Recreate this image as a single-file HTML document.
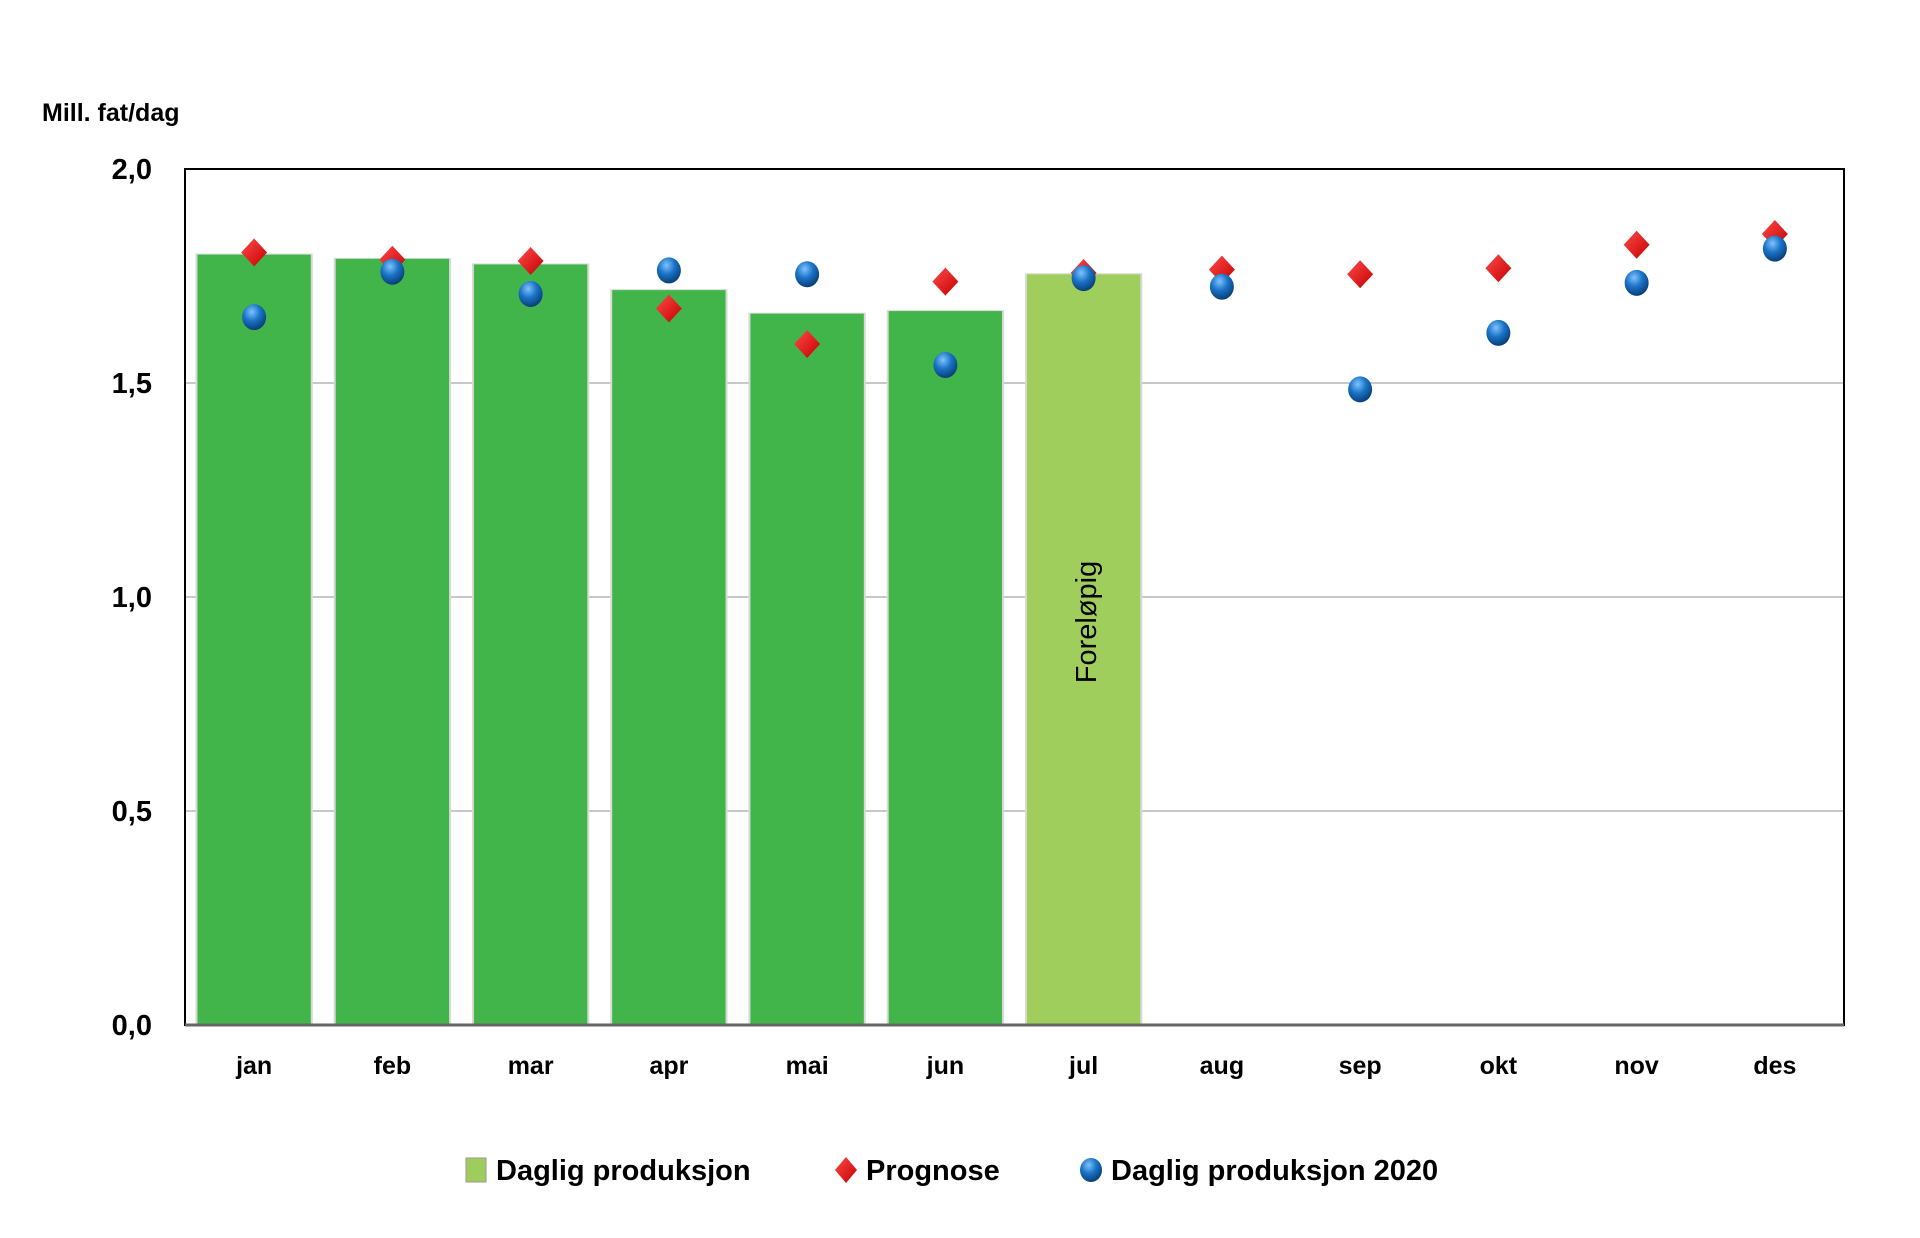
<!DOCTYPE html>
<html><head><meta charset="utf-8"><style>
html,body{margin:0;padding:0;background:#fff;}
svg{display:block;font-family:"Liberation Sans",sans-serif;}
</style></head><body>
<svg id="chart" width="1920" height="1238" viewBox="0 0 1920 1238" xmlns="http://www.w3.org/2000/svg">
<defs>
<radialGradient id="ball" cx="40%" cy="30%" r="70%">
<stop offset="0" stop-color="#7fc3ff"/><stop offset="0.5" stop-color="#1a73c6"/><stop offset="1" stop-color="#0a3f78"/>
</radialGradient>
<linearGradient id="dia" x1="0" y1="0" x2="1" y2="1">
<stop offset="0" stop-color="#ff4a4a"/><stop offset="1" stop-color="#c40000"/>
</linearGradient>
</defs>
<text x="42" y="121" font-size="25" font-weight="bold" fill="#000">Mill. fat/dag</text>
<g id="grid"></g>
<g id="bars"></g>
<rect x="185" y="169" width="1659" height="856" fill="none" stroke="#000" stroke-width="2"/>
<line x1="185" y1="1025" x2="1844" y2="1025" stroke="#666" stroke-width="3"/>
<g id="ylabels"></g>
<g id="xlabels"></g>
<g id="marks"></g>
<text transform="translate(1096,622) rotate(-90)" text-anchor="middle" font-size="29" fill="#000">Foreløpig</text>
<g>
<rect x="466" y="1158" width="20" height="24" fill="#9fcd5b" stroke="#999" stroke-width="1"/>
<text x="496" y="1180" font-size="29" font-weight="bold">Daglig produksjon</text>
<polygon points="846,1157 857,1170 846,1183 835,1170" fill="url(#dia)"/>
<text x="866" y="1180" font-size="29" font-weight="bold">Prognose</text>
<ellipse cx="1091" cy="1170" rx="11" ry="12" fill="url(#ball)"/>
<text x="1111" y="1180" font-size="29" font-weight="bold">Daglig produksjon 2020</text>
</g>
</svg>
<script>
const categories=["jan","feb","mar","apr","mai","jun","jul","aug","sep","okt","nov","des"];
const production=[1.80,1.79,1.777,1.717,1.662,1.668,1.754];
const forecast=[1.805,1.788,1.785,1.674,1.591,1.737,1.757,1.765,1.754,1.768,1.823,1.848];
const production2020=[1.654,1.76,1.708,1.763,1.754,1.542,1.745,1.725,1.485,1.617,1.734,1.814];
const yTicks=[0,0.5,1.0,1.5,2.0];
const yTickLabels=["0,0","0,5","1,0","1,5","2,0"];
const NS="http://www.w3.org/2000/svg";
const L=185,R=1844,T=169,B=1025,yMax=2;
const bw=(R-L)/categories.length;
function x(i){return L+bw*(i+0.5);}
function y(v){return B-(v/yMax)*(B-T);}
function mk(tag,attrs,parent){const e=document.createElementNS(NS,tag);for(const k in attrs)e.setAttribute(k,attrs[k]);document.getElementById(parent).appendChild(e);return e;}
yTicks.forEach((t,i)=>{
 if(t>0&&t<yMax){const g=mk('line',{x1:L,x2:R,y1:y(t),y2:y(t),stroke:'#c8c8c8','stroke-width':2},'grid');
 
 }
 const tl=mk('text',{x:152,y:y(t)+10,'text-anchor':'end','font-size':29,'font-weight':'bold'},'ylabels');
 tl.textContent=yTickLabels[i];
 
 
});
categories.forEach((c,i)=>{
 const t=mk('text',{x:x(i),y:1074,'text-anchor':'middle','font-size':25,'font-weight':'bold'},'xlabels');
 t.textContent=c;
 
 
});
const w=bw*0.82;
production.forEach((v,i)=>{
 const col=i===6?'#a0ce5c':'#42b54a';
 const s=mk('rect',{x:x(i)-w/2-2,y:y(v)-1,width:w+4,height:B-y(v)+1,fill:'#d9d9d9'},'bars');
 
 
 const b=mk('rect',{x:x(i)-w/2,y:y(v),width:w,height:B-y(v),fill:col},'bars');
 
 
});
forecast.forEach((v,i)=>{
 const cx=x(i),cy=y(v),r=14;
 const d=mk('polygon',{points:`${cx},${cy-r} ${cx+r-1},${cy} ${cx},${cy+r} ${cx-r+1},${cy}`,fill:'url(#dia)'},'marks');
 
 
});
production2020.forEach((v,i)=>{
 const c=mk('ellipse',{cx:x(i),cy:y(v),rx:12,ry:13,fill:'url(#ball)'},'marks');
 
 
});
</script>
</body></html>
